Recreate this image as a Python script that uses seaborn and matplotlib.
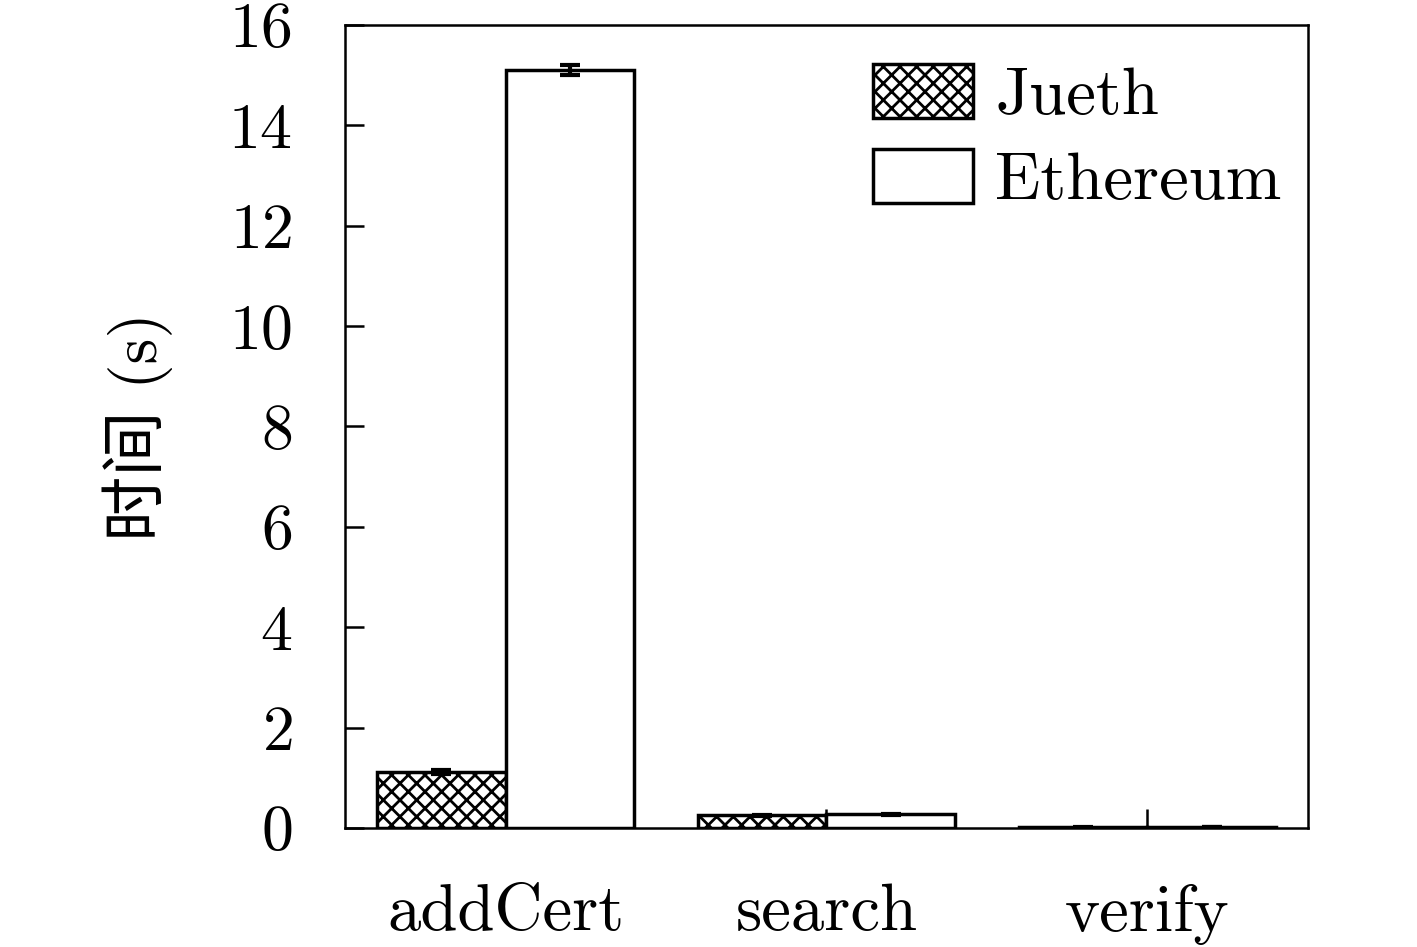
import seaborn as sns
import matplotlib.pyplot as plt
import pandas as pd
import numpy as np

operaciones = ['addCert', 'search', 'verify']
sistemas = ['Jueth', 'Ethereum']
tiempo_jueth = [1.12, 0.25, 0.01]
tiempo_ethereum = [15.1, 0.27, 0.015]
error_jueth = [0.04, 0.01, 0.005]
error_ethereum = [0.1, 0.01, 0.005]
yticks = [0, 2, 4, 6, 8, 10, 12, 14, 16]

sns.set_theme(style='ticks')
plt.rcParams['font.family'] = ['cmr10', 'Noto Sans CJK SC', 'DejaVu Sans']
plt.rcParams['axes.formatter.use_mathtext'] = True
plt.rcParams['mathtext.fontset'] = 'cm'
plt.rcParams['hatch.color'] = 'black'
plt.rcParams['hatch.linewidth'] = 2.0
plt.rcParams['text.color'] = 'black'
plt.rcParams['axes.labelcolor'] = 'black'

df = pd.DataFrame({
    'op': operaciones * 2,
    'sistema': [sistemas[0]] * 3 + [sistemas[1]] * 3,
    'tiempo': tiempo_jueth + tiempo_ethereum,
})
errores = [error_jueth, error_ethereum]

fig = plt.figure(figsize=(14.17, 9.47), dpi=100)
ax = fig.add_axes([0.2435, 0.1257, 0.6795, 0.848])

sns.barplot(data=df, x='op', y='tiempo', hue='sistema', palette=['white', 'white'],
            edgecolor='black', linewidth=2.5, saturation=1, errorbar=None,
            legend=False, ax=ax)

for bar in ax.containers[0]:
    bar.set_hatch('xx')

for cont, err in zip(ax.containers, errores):
    xs = [b.get_x() + b.get_width() / 2 for b in cont]
    ys = [b.get_height() for b in cont]
    ax.errorbar(xs, ys, yerr=err, fmt='none', ecolor='black',
                elinewidth=3, capsize=7, capthick=3)

ax.legend(ax.containers, sistemas, loc='upper right', frameon=False, fontsize=48,
          handlelength=1.5, handleheight=0.87, handletextpad=0.33,
          labelspacing=0.33, borderaxespad=0.3, bbox_to_anchor=(1.021, 1.01))

ax.set_xlim(-0.5, 2.5)
ax.set_ylim(0, 16)
ax.set_yticks(yticks)
ax.set_xlabel('')
ax.set_ylabel('时间 (s)', fontsize=47, labelpad=40, color='black')
ax.tick_params(axis='both', direction='in', length=14, width=1.8,
               labelsize=46, pad=38, colors='black')
ax.tick_params(axis='x', labelsize=48, pad=40)
for s in ax.spines.values():
    s.set_visible(True)
    s.set_linewidth(1.8)
    s.set_color('black')

plt.savefig('out.png', dpi=100)
